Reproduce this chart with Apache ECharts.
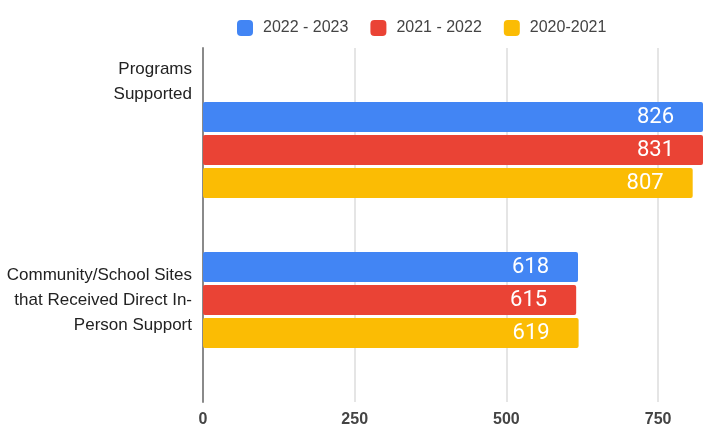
<!DOCTYPE html>
<html><head><meta charset="utf-8">
<script src="https://cdn.jsdelivr.net/npm/echarts@6/dist/echarts.min.js"></script>
<style>html,body{margin:0;padding:0;background:#fff}#c{width:703px;height:428px}</style>
</head><body><div id="c"></div>
<script>
const categories = ['Programs\nSupported', 'Community/School Sites\nthat Received Direct In-\nPerson Support'];
const seriesNames = ['2022 - 2023', '2021 - 2022', '2020-2021'];
const v2022 = [826, 618];
const v2021 = [831, 615];
const v2020 = [807, 619];
const xTicks = [0, 250, 500, 750];
const colors = ['#4285F4', '#EA4335', '#FBBC04'];
const values = [v2022, v2021, v2020];

const xMin = 0, xMax = 824, xInt = xTicks[1] - xTicks[0];
const chart = echarts.init(document.getElementById('c'), null, {renderer: 'canvas'});
const labelFont = {fontFamily: 'Liberation Sans', fontSize: 17, lineHeight: 25, color: '#222'};
chart.setOption({
  animation: false,
  legend: {
    top: 15, left: 232, itemWidth: 16, itemHeight: 16, itemGap: 22,
    icon: 'roundRect',
    textStyle: {fontFamily: 'Liberation Sans', fontSize: 16, color: '#444', padding: [0, 0, 0, 5]},
    data: seriesNames
  },
  grid: [
    {left: 203, top: 48, right: 0, height: 354},
    {left: 203, top: 75, right: 0, height: 300}
  ],
  xAxis: [
    {gridIndex: 0, type: 'value', min: xMin, max: xMax, interval: xInt,
     axisLine: {show: false}, axisTick: {show: false},
     splitLine: {showMaxLine: false, lineStyle: {color: '#dcdcdc', width: 1.5}},
     axisLabel: {margin: 10, showMaxLabel: false, fontFamily: 'Liberation Sans', fontSize: 16, fontWeight: 'bold', color: '#444',
       formatter: v => (xTicks.indexOf(v) >= 0 ? String(v) : '')}},
    {gridIndex: 1, type: 'value', min: xMin, max: xMax, interval: xInt, show: false, splitLine: {show: false}}
  ],
  yAxis: [
    {gridIndex: 0, type: 'value', min: 0, max: 1,
     axisLine: {show: true, lineStyle: {color: '#8a8a8a', width: 2}},
     axisTick: {show: false}, axisLabel: {show: false}, splitLine: {show: false}},
    {gridIndex: 1, type: 'category', inverse: true,
     data: categories,
     axisLine: {show: false}, axisTick: {show: false},
     axisLabel: Object.assign({margin: 11,
       formatter: (v, idx) => idx === 0
         ? v.split('\n').map(s => '{t|' + s + '}').join('\n') + '\n{s| }'
         : v,
       rich: {t: Object.assign({}, labelFont), s: {fontSize: 10, height: 136, lineHeight: 136}}
     }, labelFont)}
  ],
  series: seriesNames.map((name, i) => ({
    name: name, type: 'bar', xAxisIndex: 1, yAxisIndex: 1,
    data: values[i], barWidth: 30, barGap: '10%',
    itemStyle: {color: colors[i], borderRadius: 2},
    label: {show: true, position: 'insideRight', distance: 29, color: '#fff',
            fontFamily: 'Roboto', fontSize: 22}
  }))
});
</script></body></html>
